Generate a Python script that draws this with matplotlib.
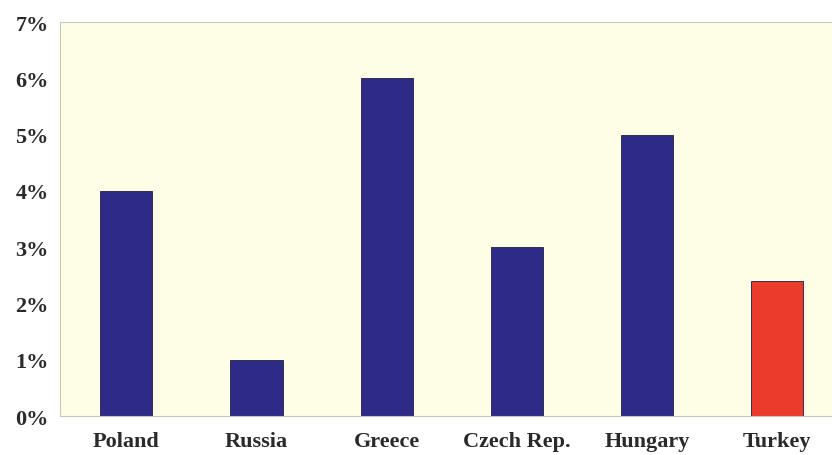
import matplotlib.pyplot as plt
from matplotlib.ticker import FuncFormatter

countries = ["Poland", "Russia", "Greece", "Czech Rep.", "Hungary", "Turkey"]
values = [4.0, 1.0, 6.0, 3.0, 5.0, 2.4]
colors = ["#2E2A88", "#2E2A88", "#2E2A88", "#2E2A88", "#2E2A88", "#EA3B2C"]
y_ticks = [0, 1, 2, 3, 4, 5, 6, 7]

plt.rcParams["font.family"] = ["Liberation Serif", "DejaVu Serif"]

fig = plt.figure(figsize=(8.32, 4.56), dpi=100)
ax = fig.add_axes([0.072, 0.0855, 0.928, 0.864])
ax.set_facecolor("#FEFDE6")

x = range(len(countries))
ax.bar(x, values, width=0.4, color=colors, edgecolor="#1f1f3a", linewidth=0.6)

ax.set_xlim(-0.51, 5.42)
ax.set_ylim(0, 7)
ax.set_yticks(y_ticks)
ax.yaxis.set_major_formatter(FuncFormatter(lambda v, _: f"{v:.0f}%"))
ax.set_xticks(list(x))
ax.set_xticklabels(countries)

ax.tick_params(axis="both", length=0, labelsize=16, colors="#2a2a2a")
ax.tick_params(axis="y", pad=8)
ax.tick_params(axis="x", pad=11)
for lbl in ax.get_xticklabels() + ax.get_yticklabels():
    lbl.set_fontweight("bold")

for side in ["left", "bottom", "top"]:
    ax.spines[side].set_color("#c8c8b8")
    ax.spines[side].set_linewidth(0.8)
ax.spines["right"].set_visible(False)

fig.savefig("out.png", dpi=100, facecolor="white")
